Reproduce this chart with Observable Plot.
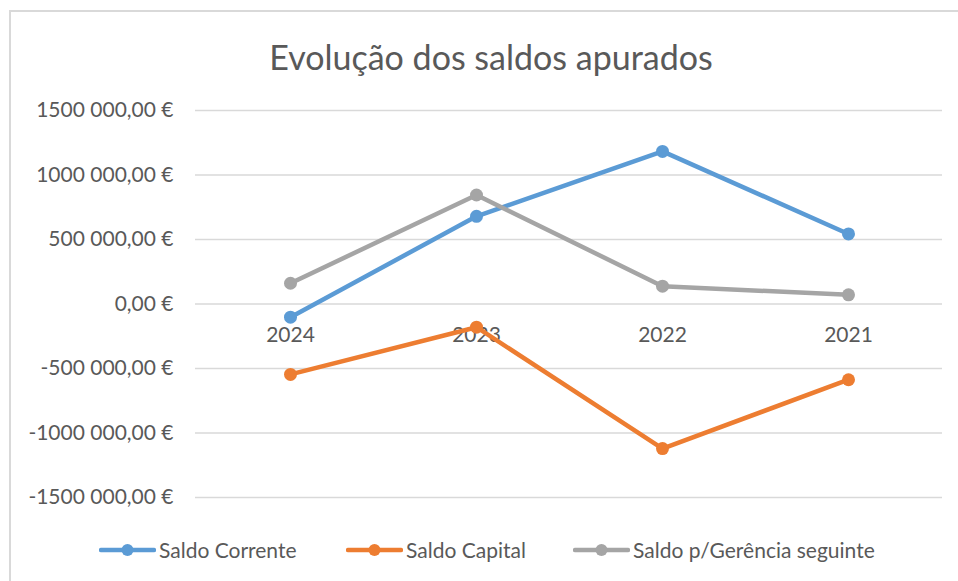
<!DOCTYPE html>
<html>
<head>
<meta charset="utf-8">
<script src="https://cdn.jsdelivr.net/npm/d3@7"></script>
<script src="https://cdn.jsdelivr.net/npm/@observablehq/plot@0.6"></script>
<style>
  html, body { margin: 0; padding: 0; background: #fff; overflow: hidden; }
  body { width: 958px; height: 581px; position: relative; font-family: Lato, "Open Sans", sans-serif; }
  #frame { position: absolute; left: 9px; top: 10px; width: 1000px; height: 700px; border: 2px solid #d9d9d9; box-sizing: border-box; }
  #wrap { position: absolute; left: 0; top: 0; width: 958px; }
  #title { height: 95px; position: relative; }
  #title span { position: absolute; left: 0; width: 982px; text-align: center; top: 37px; font-size: 34px; color: #595959; line-height: 40px; }
  #chart svg { display: block; }
  #legend { height: 66px; position: relative; }
  .item { position: absolute; top: 21px; display: flex; align-items: center; font-size: 21px; color: #595959; line-height: 24px; }
  .item svg { display: block; margin-right: 3px; }
</style>
</head>
<body>
<div id="frame"></div>
<div id="wrap">
  <div id="title"><span>Evolução dos saldos apurados</span></div>
  <div id="chart"></div>
  <div id="legend"></div>
</div>
<script>
const years = ["2024", "2023", "2022", "2021"];
const saldoCorrente = [-102000, 680000, 1183000, 543000];
const saldoCapital = [-546000, -180000, -1121000, -587000];
const saldoGerencia = [161000, 845000, 138000, 71000];
const seriesNames = ["Saldo Corrente", "Saldo Capital", "Saldo p/Gerência seguinte"];
const seriesColors = ["#5B9BD5", "#ED7D31", "#A5A5A5"];
const yTicks = [-1500000, -1000000, -500000, 0, 500000, 1000000, 1500000];
const yTickLabels = ["-1500 000,00 €", "-1000 000,00 €", "-500 000,00 €", "0,00 €", "500 000,00 €", "1000 000,00 €", "1500 000,00 €"];

const seriesValues = [saldoCorrente, saldoCapital, saldoGerencia];
const data = seriesNames.flatMap((s, si) => years.map((yr, i) => ({series: s, year: yr, value: seriesValues[si][i]})));

const chart = Plot.plot({
  width: 958,
  height: 422,
  marginLeft: 195,
  marginRight: 16,
  marginTop: 15,
  marginBottom: 20,
  style: {fontFamily: "Lato, 'Open Sans', sans-serif", background: "transparent"},
  x: {type: "point", domain: years, padding: 0.5, axis: null},
  y: {domain: [-1500000, 1500000], axis: null},
  color: {domain: seriesNames, range: seriesColors},
  marks: [
    Plot.ruleY(yTicks, {stroke: "#d9d9d9", strokeWidth: 1.5}),
    Plot.axisY({ticks: yTicks, tickSize: 0, tickPadding: 22, label: null,
      tickFormat: d => yTickLabels[yTicks.indexOf(d)], fontSize: 21, fill: "#595959"}),
    Plot.text(years, {x: d => d, y: () => 0, dy: 31, fontSize: 21, fill: "#595959"}),
    Plot.lineY(data, {x: "year", y: "value", stroke: "series", strokeWidth: 4.5, strokeLinejoin: "round", strokeLinecap: "round"}),
    Plot.dot(data, {x: "year", y: "value", fill: "series", r: 6.5})
  ]
});
document.getElementById("chart").appendChild(chart);

const legendX = [99, 346, 573];
const legend = document.getElementById("legend");
seriesNames.forEach((name, i) => {
  const div = document.createElement("div");
  div.className = "item";
  div.style.left = legendX[i] + "px";
  div.innerHTML = `<svg width="57" height="14"><line x1="2" y1="7" x2="55" y2="7" stroke="${seriesColors[i]}" stroke-width="4.5" stroke-linecap="round"/><circle cx="28.5" cy="7" r="6" fill="${seriesColors[i]}"/></svg><span>${name}</span>`;
  legend.appendChild(div);
});
</script>
</body>
</html>
